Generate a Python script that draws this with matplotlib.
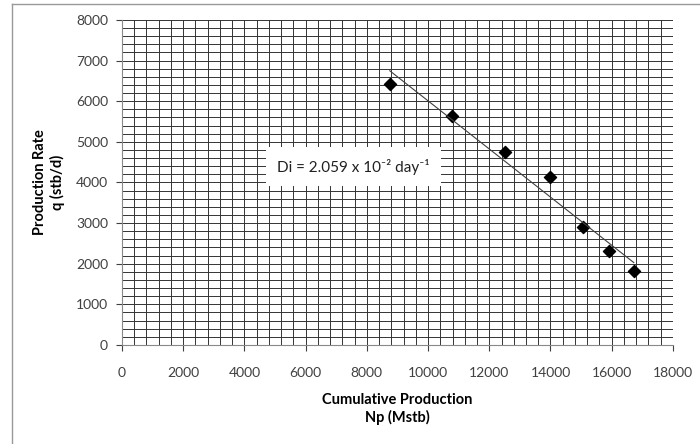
import numpy as np
import matplotlib.pyplot as plt
from matplotlib.lines import Line2D

# data
np_cum = [8750, 10780, 12530, 13990, 15060, 15900, 16720]
q_rate = [6430, 5640, 4750, 4130, 2910, 2320, 1830]
x_ticks = [0, 2000, 4000, 6000, 8000, 10000, 12000, 14000, 16000, 18000]
y_ticks = [0, 1000, 2000, 3000, 4000, 5000, 6000, 7000, 8000]

plt.rcParams['font.family'] = ['Lato', 'DejaVu Sans']

fig = plt.figure(figsize=(7, 4.44), dpi=100)
ax = fig.add_axes([0.1743, 0.223, 0.787, 0.732])

# excel style dense grid
ax.set_xticks(np.arange(0, 18001, 400), minor=True)
ax.set_yticks(np.arange(0, 8001, 200), minor=True)
ax.grid(which='minor', color='#333333', linewidth=0.7)
ax.grid(which='major', color='#333333', linewidth=0.7)
ax.tick_params(which='minor', length=0)
ax.set_axisbelow(True)

ax.scatter(np_cum, q_rate, marker='D', s=38, color='black', zorder=3)

# linear trend line over the data range
coef = np.polyfit(np_cum, q_rate, 1)
xs = np.array([min(np_cum), max(np_cum)])
ax.plot(xs, np.polyval(coef, xs), color='#404040', linewidth=0.8, zorder=3)

ax.set_xlim(0, 18000)
ax.set_ylim(0, 8000)
ax.set_xticks(x_ticks)
ax.set_yticks(y_ticks)
ax.tick_params(which='major', labelsize=10, colors='#404040', length=4)
ax.tick_params(axis='x', pad=12)
ax.tick_params(axis='y', pad=6)
for s in ['top', 'right']:
    ax.spines[s].set_visible(False)
for s in ['left', 'bottom']:
    ax.spines[s].set_color('#888888')

ax.set_xlabel('Cumulative Production\nNp (Mstb)', fontsize=10.5, fontweight='bold', labelpad=10)
ax.set_ylabel('Production Rate\nq (stb/d)', fontsize=10.5, fontweight='bold', labelpad=8)

ax.text(0.396, 0.624, 'Di = 2.059 x 10\u207b\u00b2 day\u207b\u00b9', transform=fig.transFigure,
        fontsize=11, color='#202020', va='center', ha='left', zorder=5,
        bbox=dict(boxstyle='square,pad=0.75', facecolor='white', edgecolor='none'))

# chart area border (top and left only, the rest is cropped)
fig.lines.append(Line2D([12 / 700, 12 / 700], [0, 1 - 4 / 444], transform=fig.transFigure,
                        color='#999999', linewidth=1))
fig.lines.append(Line2D([12 / 700, 1], [1 - 4 / 444, 1 - 4 / 444], transform=fig.transFigure,
                        color='#999999', linewidth=1))

fig.savefig('out.png', dpi=100)
